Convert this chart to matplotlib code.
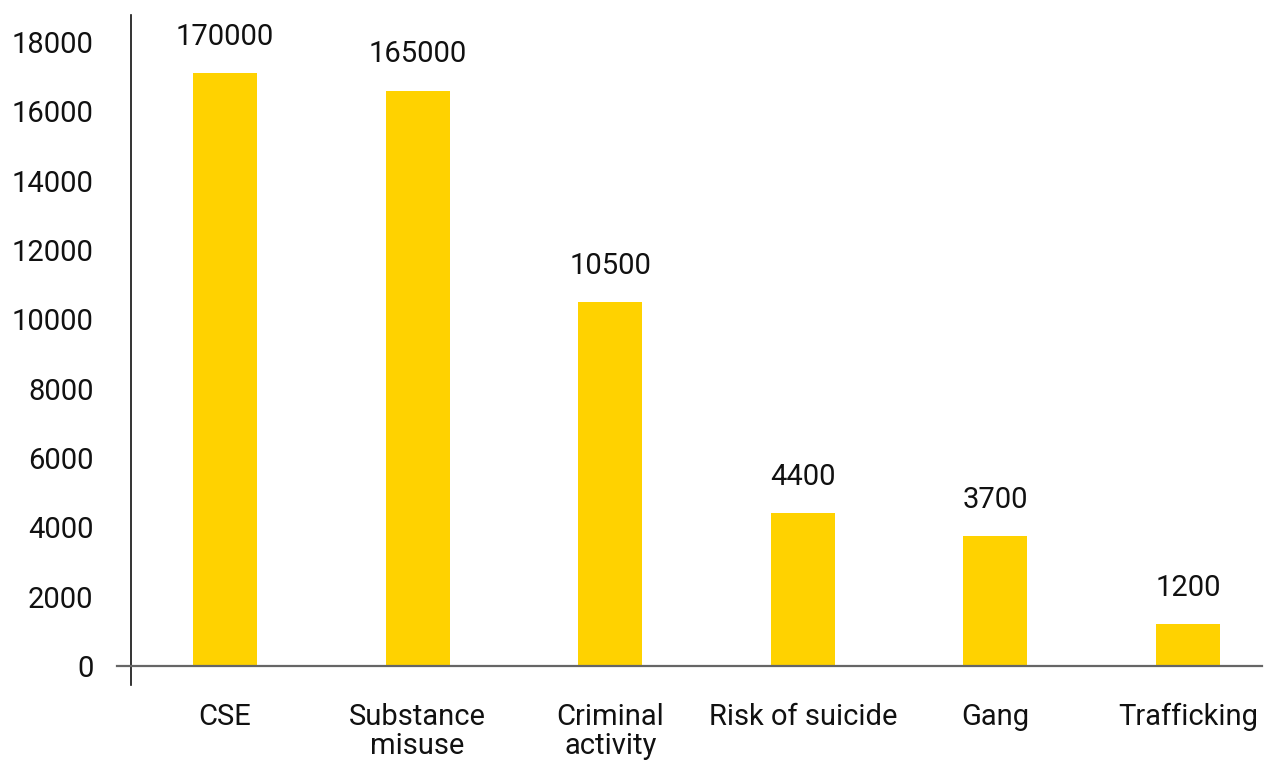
import matplotlib
matplotlib.use("Agg")
import matplotlib.pyplot as plt
import matplotlib.transforms as mtransforms

categories = ["CSE", "Substance\nmisuse", "Criminal\nactivity", "Risk of suicide", "Gang", "Trafficking"]
values = [17100, 16600, 10500, 4400, 3750, 1200]
value_labels = ["170000", "165000", "10500", "4400", "3700", "1200"]
yticks = [0, 2000, 4000, 6000, 8000, 10000, 12000, 14000, 16000, 18000]

plt.rcParams['font.family'] = ['Roboto', 'DejaVu Sans']
BAR = "#FFD200"
TXT = "#111111"
FS = 21

fig = plt.figure(figsize=(12.64, 7.6), dpi=100)
ax = fig.add_axes([131/1264, 75/760, 1131/1264, 670/760])

x = list(range(len(categories)))
ax.bar(x, values, width=0.332, color=BAR, zorder=2)

ax.set_xlim(-0.488, 5.384)
ax.set_ylim(-548, 18779)

for s in ["top", "right", "bottom"]:
    ax.spines[s].set_visible(False)
ax.spines["left"].set_color("#111111")
ax.spines["left"].set_linewidth(1.2)

trans = mtransforms.blended_transform_factory(ax.transAxes, ax.transData)
ax.plot([-0.0124, 1.0], [0, 0], color="#666666", lw=1.6, transform=trans, clip_on=False, zorder=3)

ax.set_yticks(yticks)
ax.set_yticklabels([str(v) for v in yticks], fontsize=FS, color=TXT)
ax.tick_params(axis="y", length=0, pad=27)
ax.set_xticks(x)
ax.set_xticklabels(categories, fontsize=FS, color=TXT, linespacing=1.05, va="top")
ax.tick_params(axis="x", length=0, pad=13)

for xi, v, lab in zip(x, values, value_labels):
    ax.annotate(lab, (xi, v), xytext=(0, 16), textcoords="offset points",
                ha="center", va="bottom", fontsize=FS, color=TXT)

fig.savefig("out.png", dpi=100)
